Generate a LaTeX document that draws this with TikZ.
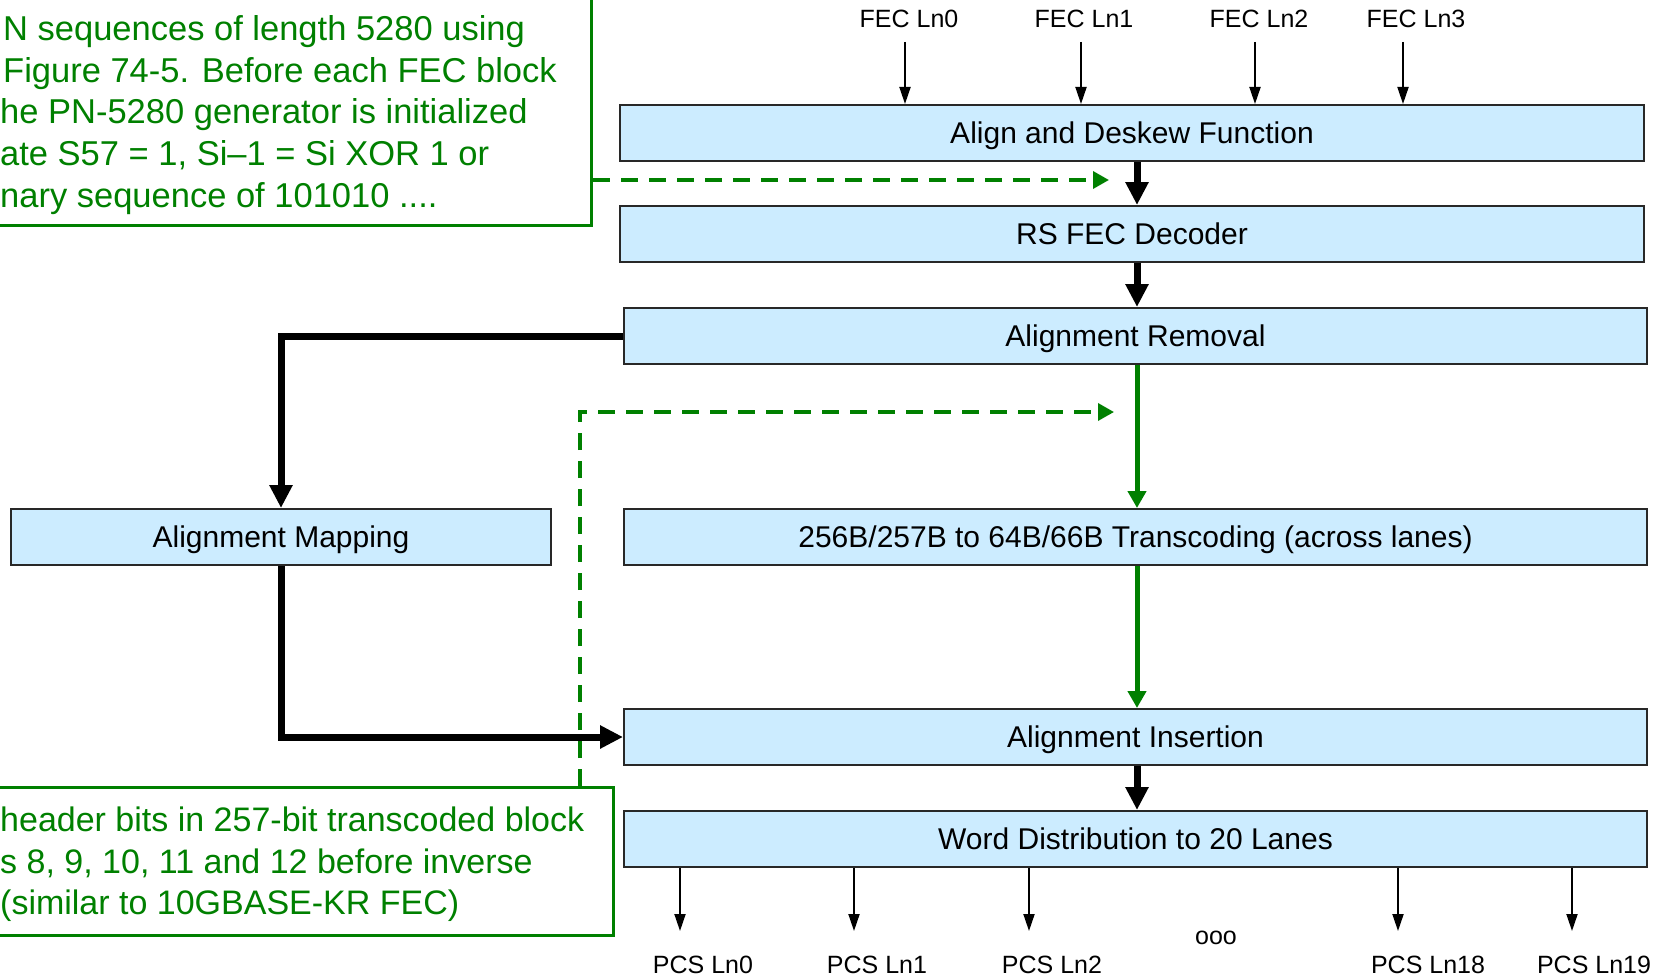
\documentclass[tikz,border=0pt]{standalone}
\usepackage{fontspec}
\setmainfont{Liberation Sans}
\usetikzlibrary{arrows.meta}
\definecolor{boxfill}{RGB}{204,236,255}
\definecolor{grn}{RGB}{0,128,0}
\definecolor{edgec}{RGB}{40,40,40}
\begin{document}
\begin{tikzpicture}[x=1pt,y=-1pt,
  blk/.style={draw=edgec, line width=2pt, fill=boxfill, minimum height=56pt, inner sep=0pt, text height=21.5pt, text depth=0pt, font=\fontsize{30}{36}\selectfont},
  thickarr/.style={line width=7pt, -{Triangle[width=22pt,length=23pt]}},
  thinarr/.style={line width=1.9pt, -{Triangle[width=11pt,length=17pt]}},
  grarr/.style={grn, line width=5pt, -{Triangle[width=18pt,length=17pt]}},
  grdash/.style={grn, line width=3.5pt, dash pattern=on 17pt off 11pt, -{Triangle[width=17pt,length=16pt]}},
  grbox/.style={draw=grn, line width=3pt, inner sep=0pt},
  grtxt/.style={grn, anchor=base west, inner sep=0pt, font=\fontsize{34}{41}\selectfont},
  grtxtb/.style={grn, anchor=base west, inner sep=0pt, font=\fontsize{34.5}{41}\selectfont},
  lbl/.style={inner sep=0pt, font=\fontsize{25}{30}\selectfont}
]
\useasboundingbox (0,0) rectangle (1668,979);
\clip (0,0) rectangle (1668,979);

% main boxes
\node[blk, minimum width=1024pt] (b1) at (1132,133) {Align and Deskew Function};
\node[blk, minimum width=1024pt] (b2) at (1132,234) {RS FEC Decoder};
\node[blk, minimum width=1023pt] (b3) at (1135.5,336) {Alignment Removal};
\node[blk, minimum width=1023pt] (tc) at (1135.5,537) {256B/257B to 64B/66B Transcoding (across lanes)};
\node[blk, minimum width=1023pt] (ins) at (1135.5,737) {Alignment Insertion};
\node[blk, minimum width=1023pt] (wd) at (1135.5,839) {Word Distribution to 20 Lanes};
\node[blk, minimum width=540pt] (map) at (281,537) {Alignment Mapping};

% green note boxes
\node[grbox, minimum width=660pt, minimum height=270pt, anchor=south east] (tlbox) at (593,227) {};
\node[grtxtb] (t1) at (3,41) {N sequences of length 5280 using};
\node[grtxtb] (t2) at (3,82.5) {Figure 74-5. Before each FEC block};
\node[grtxtb] (t3) at (0,124) {he PN-5280 generator is initialized};
\node[grtxtb] (t4) at (0,165.5) {ate S57 = 1, Si–1 = Si XOR 1 or};
\node[grtxtb] (t5) at (0,207) {nary sequence of 101010 ....};

\node[grbox, minimum width=680pt, minimum height=148pt, anchor=north east] (blbox) at (615,786) {};
\node[grtxt] (u1) at (0,831) {header bits in 257-bit transcoded block};
\node[grtxt] (u2) at (0,873) {s 8, 9, 10, 11 and 12 before inverse};
\node[grtxt] (u3) at (0,914) {(similar to 10GBASE-KR FEC)};

% vertical main flow
\draw[thickarr] (b1.south -| 1137,0) -- (b2.north -| 1137,0);
\draw[thickarr] (b2.south -| 1137,0) -- (b3.north -| 1137,0);
\draw[grarr] (b3.south -| 1137,0) -- (tc.north -| 1137,0);
\draw[grarr] (tc.south -| 1137,0) -- (ins.north -| 1137,0);
\draw[thickarr] (ins.south -| 1137,0) -- (wd.north -| 1137,0);

% alignment mapping loop
\draw[line width=7pt, line join=miter, -{Triangle[width=22pt,length=23pt]}] (b3.west) -- (b3.west -| map.north) -- (map.north);
\draw[line width=7pt, line join=miter, -{Triangle[width=22pt,length=23pt]}] (map.south) -- (map.south |- ins.west) -- (ins.west);

% green dashed connectors
\coordinate (c1) at (1109,180);
\draw[grdash] (tlbox.east |- c1) -- (c1);
\coordinate (c2) at (1114,412);
\coordinate (c2c) at (580,412);
\draw[grdash] (c2c |- blbox.north) -- (c2c) -- (c2);

% FEC lanes
\node[lbl] (lf0) at (909,19) {FEC Ln0};
\node[lbl] (lf1) at (1084,19) {FEC Ln1};
\node[lbl] (lf2) at (1259,19) {FEC Ln2};
\node[lbl] (lf3) at (1416,19) {FEC Ln3};
\coordinate (f0) at (905,42);
\coordinate (f1) at (1081,42);
\coordinate (f2) at (1255,42);
\coordinate (f3) at (1403,42);
\foreach \f in {f0,f1,f2,f3} { \draw[thinarr] (\f) -- (\f |- b1.north); }

% PCS lanes
\coordinate (p0) at (680,931);
\coordinate (p1) at (854,931);
\coordinate (p2) at (1029,931);
\coordinate (p3) at (1398,931);
\coordinate (p4) at (1572,931);
\foreach \p in {p0,p1,p2,p3,p4} { \draw[thinarr] (\p |- wd.south) -- (\p); }
\node[lbl] (lp0) at (703,965) {PCS Ln0};
\node[lbl] (lp1) at (877,965) {PCS Ln1};
\node[lbl] (lp2) at (1052,965) {PCS Ln2};
\node[lbl] (lp3) at (1428,965) {PCS Ln18};
\node[lbl] (lp4) at (1594,965) {PCS Ln19};
\node[lbl] (dots) at (1216,938) {ooo};
\end{tikzpicture}
\end{document}
